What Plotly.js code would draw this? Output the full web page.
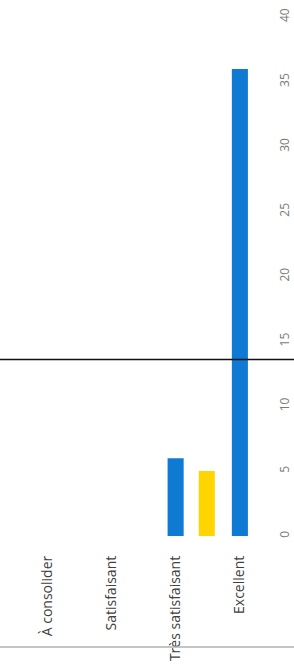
<!DOCTYPE html>
<html>
<head>
<meta charset="utf-8">
<script src="https://cdn.plot.ly/plotly-3.0.1.min.js"></script>
<style>html,body{margin:0;padding:0;background:#fff;}#chart{width:294px;height:671px;}</style>
</head>
<body>
<div id="chart"></div>
<script>
const categories = ["À consolider", "Satisfaisant", "Très satisfaisant", "Excellent"];
const blueValues = [0, 0, 6, 36];
const yellowCategories = ["Très satisfaisant"];
const yellowValues = [5];
const valueTicks = [0, 5, 10, 15, 20, 25, 30, 35, 40];
const referenceValue = 13.6;

const traces = [
  {
    type: "bar", x: categories, y: blueValues,
    width: 0.25, offset: -0.125,
    marker: {color: "#0f7ad3"}, hoverinfo: "none"
  },
  {
    type: "bar", x: yellowCategories, y: yellowValues,
    width: 0.25, offset: 0.36,
    marker: {color: "#ffd500"}, hoverinfo: "none"
  }
];

const layout = {
  width: 294, height: 671,
  margin: {l: 15, r: 22, t: 4, b: 135},
  paper_bgcolor: "#fff", plot_bgcolor: "#fff",
  showlegend: false,
  barmode: "overlay",
  font: {family: "Open Sans, sans-serif"},
  xaxis: {
    type: "category", categoryarray: categories, categoryorder: "array",
    range: [-0.5, 3.5],
    tickangle: -90, showgrid: false, zeroline: false, showline: false, ticks: "",
    ticklabelstandoff: 16,
    tickfont: {size: 14, color: "#404040"}, fixedrange: true
  },
  yaxis: {
    range: [0, 41], side: "right", tickvals: valueTicks, ticktext: valueTicks.map(String),
    tickangle: -90, showgrid: false, zeroline: false, showline: false, ticks: "",
    ticklabelstandoff: 4,
    tickfont: {size: 12, color: "#7a7a7a"}, fixedrange: true
  },
  shapes: [
    {type: "line", xref: "paper", yref: "y", x0: -0.07, x1: 1.09, y0: referenceValue, y1: referenceValue,
     line: {color: "#111", width: 1.5}},
    {type: "line", xref: "paper", yref: "paper", x0: -0.07, x1: 1.09, y0: -0.2086, y1: -0.2086,
     line: {color: "#b0b0b0", width: 1.5}}
  ]
};

Plotly.newPlot("chart", traces, layout, {staticPlot: true, displayModeBar: false});
</script>
</body>
</html>
